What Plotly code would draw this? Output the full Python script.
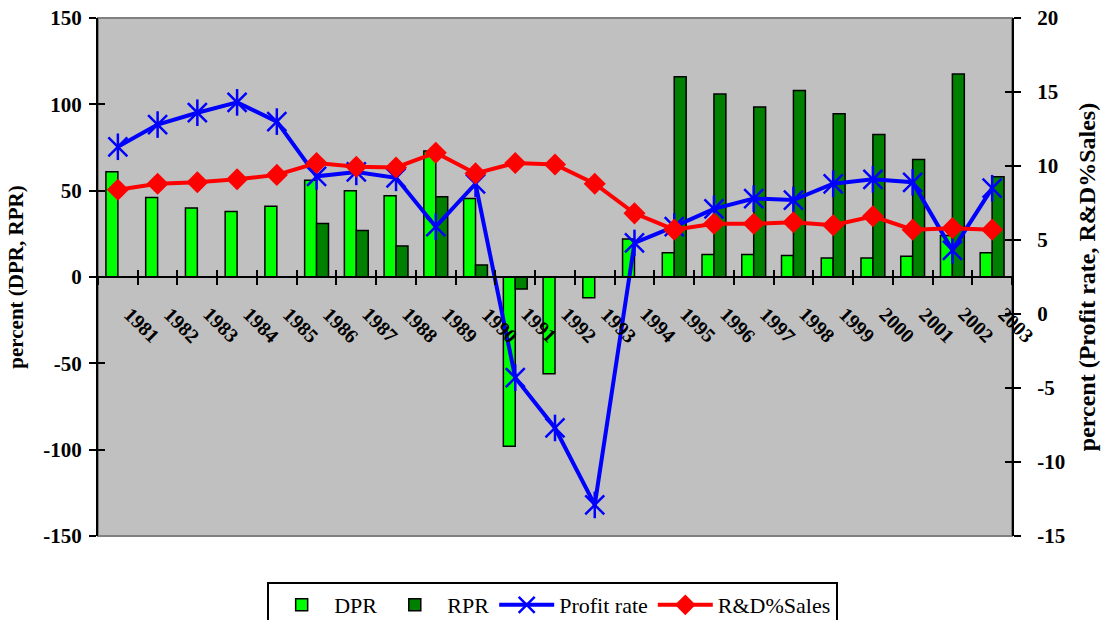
import plotly.graph_objects as go

# Annual figures, 1981-2003
years = [str(y) for y in range(1981, 2004)]
dpr = [61, 46, 40, 38, 41, 56, 50, 47, 73, 45.5, -98, -56, -12, 22,
       14, 13, 13, 12.5, 11, 11, 12, 24, 14]
rpr = [None, None, None, None, None, 31, 27, 18, 46.5, 7, -7, None, None, None,
       116, 106, 98.5, 108, 94.5, 82.5, 68, 117.5, 58]
profit_rate = [11.3, 12.8, 13.6, 14.3, 13.0, 9.3, 9.6, 9.2, 5.9, 8.8, -4.3, -7.7,
               -12.9, 4.8, 5.9, 7.1, 7.8, 7.7, 8.8, 9.1, 8.9, 4.3, 8.5]
rd_sales = [8.4, 8.8, 8.9, 9.1, 9.4, 10.2, 9.95, 9.9, 10.9, 9.5, 10.2, 10.1,
            8.8, 6.8, 5.7, 6.1, 6.1, 6.2, 6.0, 6.6, 5.7, 5.8, 5.7]

left_ticks = [-150, -100, -50, 0, 50, 100, 150]
right_ticks = [-15, -10, -5, 0, 5, 10, 15, 20]

FONT = "Liberation Serif"
BLUE = "#0000FF"
RED = "#FF0000"
CAT_RANGE = [-0.5, len(years) - 0.5]


def bold(v):
    return f"<b>{v}</b>"


fig = go.Figure()

fig.add_trace(go.Bar(
    x=years, y=dpr, name="DPR",
    marker=dict(color="#00FF00", line=dict(color="black", width=1.5)),
    xaxis="x", yaxis="y"))
fig.add_trace(go.Bar(
    x=years, y=rpr, name="RPR",
    marker=dict(color="#008000", line=dict(color="black", width=1.5)),
    xaxis="x", yaxis="y"))

fig.add_trace(go.Scatter(
    x=years, y=profit_rate, name="Profit rate", mode="lines+markers",
    line=dict(color=BLUE, width=4),
    marker=dict(symbol="x-thin-open", size=19, color=BLUE,
                line=dict(color=BLUE, width=2.5)),
    xaxis="x", yaxis="y2"))
# vertical stroke completing the asterisk marker
fig.add_trace(go.Scatter(
    x=years, y=profit_rate, mode="markers", showlegend=False,
    marker=dict(symbol="line-ns-open", size=19, color=BLUE,
                line=dict(color=BLUE, width=2.5)),
    hoverinfo="skip", xaxis="x", yaxis="y2"))

fig.add_trace(go.Scatter(
    x=years, y=rd_sales, name="R&D%Sales", mode="lines+markers",
    line=dict(color=RED, width=4),
    marker=dict(symbol="diamond", size=17, color=RED),
    xaxis="x", yaxis="y2"))

# invisible helpers so the overlay axes (inner tick halves) are drawn
fig.add_trace(go.Scatter(x=years, y=[None] * len(years), mode="markers",
                         showlegend=False, hoverinfo="skip",
                         xaxis="x3", yaxis="y3"))
fig.add_trace(go.Scatter(x=years, y=[None] * len(years), mode="markers",
                         showlegend=False, hoverinfo="skip",
                         xaxis="x3", yaxis="y4"))

# year labels sit just under the zero line, slanted downwards
year_labels = [dict(x=i, y=0, xref="x", yref="y", text=bold(yr),
                    textangle=45, showarrow=False, xanchor="center",
                    yanchor="middle", xshift=24, yshift=-48,
                    font=dict(family=FONT, size=20, color="black"))
               for i, yr in enumerate(years)]

tick_font = dict(family=FONT, size=21, color="black")

fig.update_layout(
    width=1112, height=620,
    margin=dict(l=98, r=100, t=18, b=84, autoexpand=False),
    paper_bgcolor="white",
    plot_bgcolor="#C0C0C0",
    font=dict(family=FONT, color="black"),
    barmode="group",
    bargap=0.4,
    bargroupgap=0,
    showlegend=True,
    legend=dict(
        orientation="h", x=0.497, xanchor="center",
        xref="container", yref="container", y=1 - 582 / 620, yanchor="top",
        bgcolor="white", bordercolor="black", borderwidth=2,
        font=dict(family=FONT, size=22, color="black"),
        traceorder="normal", itemwidth=55,
    ),
    xaxis=dict(
        type="category", categoryorder="array", categoryarray=years,
        range=CAT_RANGE, anchor="free", position=0.5,
        showline=True, linecolor="black", linewidth=2,
        ticks="outside", ticklen=7, tickwidth=2, tickcolor="black",
        tickson="boundaries", showticklabels=False,
        showgrid=False, zeroline=False,
    ),
    xaxis3=dict(
        type="category", categoryorder="array", categoryarray=years,
        range=CAT_RANGE, overlaying="x", anchor="free", position=0.5,
        showline=False, ticks="inside", ticklen=7, tickwidth=2,
        tickcolor="black", tickson="boundaries",
        showticklabels=False, showgrid=False, zeroline=False,
    ),
    yaxis=dict(
        range=[-150, 150], tickvals=left_ticks,
        ticktext=[bold(v) for v in left_ticks],
        showline=True, linecolor="black", linewidth=2,
        ticks="outside", ticklen=7, tickwidth=2, tickcolor="black",
        ticklabelstandoff=3,
        tickfont=tick_font, showgrid=False, zeroline=False,
        title=dict(text=bold("percent (DPR, RPR)"),
                   font=dict(family=FONT, size=21, color="black"),
                   standoff=14),
    ),
    yaxis3=dict(
        range=[-150, 150], tickvals=left_ticks, overlaying="y", side="left",
        anchor="x3", showline=False, ticks="inside", ticklen=7, tickwidth=2,
        tickcolor="black", showticklabels=False, showgrid=False,
        zeroline=False,
    ),
    yaxis2=dict(
        range=[-15, 20], tickvals=right_ticks,
        ticktext=[bold(v) for v in right_ticks],
        overlaying="y", side="right", anchor="x",
        showline=True, linecolor="black", linewidth=2,
        ticks="outside", ticklen=7, tickwidth=2, tickcolor="black",
        ticklabelstandoff=12,
        tickfont=tick_font, showgrid=False, zeroline=False,
        title=dict(text=bold("percent (Profit rate, R&D%Sales)"),
                   font=dict(family=FONT, size=24, color="black"),
                   standoff=14),
    ),
    yaxis4=dict(
        range=[-15, 20], tickvals=right_ticks, overlaying="y", side="right",
        anchor="x3", showline=False, ticks="inside", ticklen=7, tickwidth=2,
        tickcolor="black", showticklabels=False, showgrid=False,
        zeroline=False,
    ),
    annotations=year_labels,
    shapes=[dict(type="rect", xref="paper", yref="paper", x0=0, x1=1, y0=0, y1=1,
                 line=dict(color="#808080", width=2), layer="below")],
)

fig.write_html("out.html")
